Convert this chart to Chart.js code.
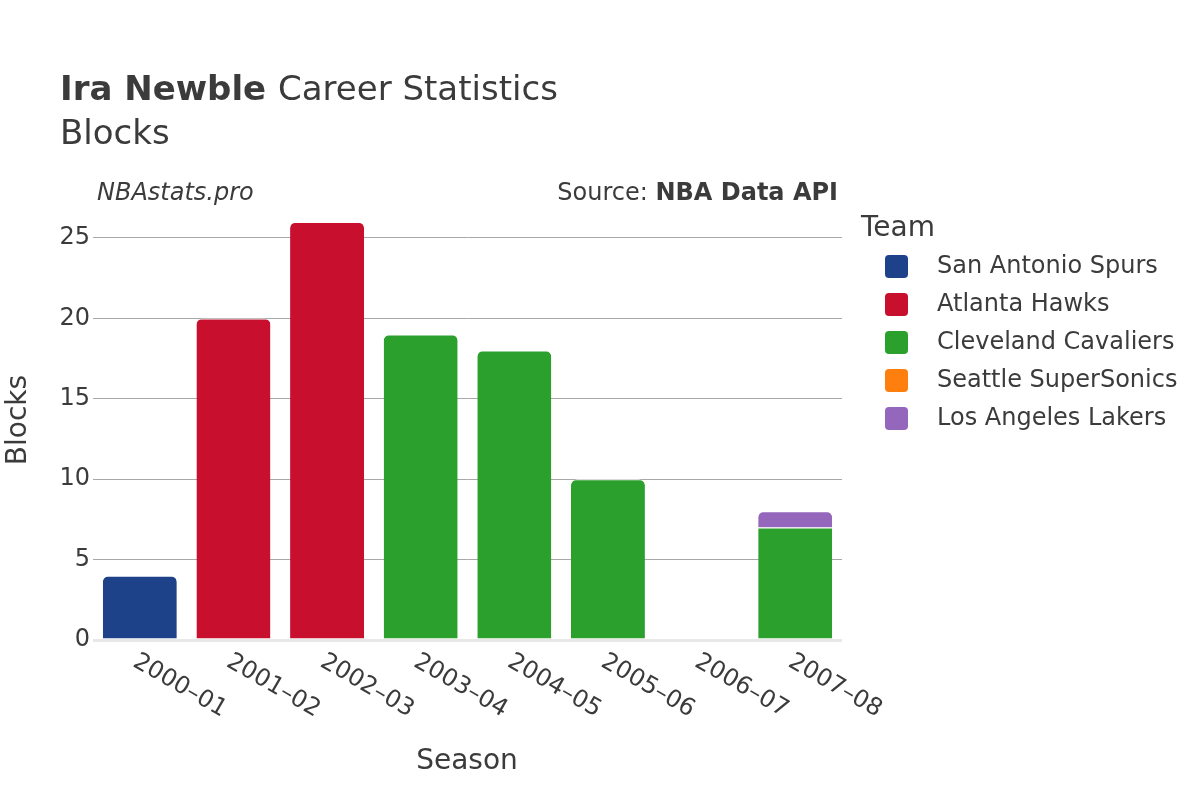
<!DOCTYPE html>
<html>
<head>
<meta charset="utf-8">
<script src="https://cdn.jsdelivr.net/npm/chart.js@4"></script>
<style>
  body { margin: 0; background: #fff; }
  #wrap { width: 1200px; height: 800px; }
</style>
</head>
<body>
<div id="wrap"><canvas id="blocksChart" width="1200" height="800"></canvas></div>
<script>
// seasons on the x axis
const seasons = ['2000–01', '2001–02', '2002–03', '2003–04', '2004–05', '2005–06', '2006–07', '2007–08'];

// blocks per team, one value per season (null = did not play for that team)
const spursBlocks     = [4, null, null, null, null, null, null, null];
const hawksBlocks     = [null, 20, 26, null, null, null, null, null];
const cavaliersBlocks = [null, null, null, 19, 18, 10, null, 7];
const sonicsBlocks    = [null, null, null, null, null, null, 0, null];
const lakersBlocks    = [null, null, null, null, null, null, null, 1];

const teamNames  = ['San Antonio Spurs', 'Atlanta Hawks', 'Cleveland Cavaliers', 'Seattle SuperSonics', 'Los Angeles Lakers'];
const teamColors = ['#1d428a', '#c8102e', '#2ca02c', '#ff7f0e', '#9467bd'];
const yTicks = [0, 5, 10, 15, 20, 25];

const FONT = '"DejaVu Sans", sans-serif';
const TEXT = '#3b3b3b';

const seriesValues = [spursBlocks, hawksBlocks, cavaliersBlocks, sonicsBlocks, lakersBlocks];

const datasets = teamNames.map(function (name, i) {
    return {
        label: name,
        data: seriesValues[i],
        backgroundColor: teamColors[i],
        borderColor: '#ffffff',
        borderWidth: { top: 1, left: 0, right: 0, bottom: 0 },
        borderSkipped: 'start',
        borderRadius: 6,
        barPercentage: 0.79,
        categoryPercentage: 1.0
    };
});

// draws titles, rotated season labels, axis titles and the legend
const decorations = {
    id: 'decorations',
    afterDraw: function (chart) {
        const ctx = chart.ctx;
        const area = chart.chartArea;
        ctx.save();
        ctx.fillStyle = TEXT;
        ctx.textBaseline = 'alphabetic';

        // title
        ctx.textAlign = 'left';
        ctx.font = 'bold 34px ' + FONT;
        ctx.fillText('Ira Newble', 60, 100);
        const w = ctx.measureText('Ira Newble ').width;
        ctx.font = '34px ' + FONT;
        ctx.fillText('Career Statistics', 60 + w, 100);
        ctx.fillText('Blocks', 60, 144);

        // sub labels
        ctx.font = 'italic 24px ' + FONT;
        ctx.fillText('NBAstats.pro', 97, 200);
        ctx.textAlign = 'right';
        ctx.font = 'bold 24px ' + FONT;
        ctx.fillText('NBA Data API', 838, 200);
        const bw = ctx.measureText('NBA Data API').width;
        ctx.font = '24px ' + FONT;
        ctx.fillText('Source: ', 838 - bw, 200);

        // rotated season labels
        const xScale = chart.scales.x;
        ctx.font = '24px ' + FONT;
        ctx.textAlign = 'left';
        ctx.textBaseline = 'middle';
        seasons.forEach(function (s, i) {
            const px = xScale.getPixelForTick(i);
            ctx.save();
            ctx.translate(px - 5, area.bottom + 20);
            ctx.rotate(Math.PI / 6);
            ctx.fillText(s, 0, 0);
            ctx.restore();
        });

        // axis titles
        ctx.textAlign = 'center';
        ctx.font = '28px ' + FONT;
        ctx.fillText('Season', 467, 770 - 8);
        ctx.save();
        ctx.translate(19, 420);
        ctx.rotate(-Math.PI / 2);
        ctx.fillText('Blocks', 0, 0);
        ctx.restore();

        // legend
        ctx.textAlign = 'left';
        ctx.font = '28px ' + FONT;
        ctx.fillText('Team', 861, 229 + 8 - 8);
        ctx.font = '24px ' + FONT;
        ctx.textBaseline = 'middle';
        chart.data.datasets.forEach(function (ds, i) {
            const cy = 266 + i * 38;
            ctx.fillStyle = ds.backgroundColor;
            ctx.beginPath();
            ctx.roundRect(885, cy - 11, 23, 23, 4);
            ctx.fill();
            ctx.fillStyle = TEXT;
            ctx.fillText(ds.label, 937, cy + 1);
        });
        ctx.restore();
    }
};

const ctx = document.getElementById('blocksChart').getContext('2d');
const blocksChart = new Chart(ctx, {
    type: 'bar',
    data: { labels: seasons, datasets: datasets },
    options: {
        responsive: false,
        animation: false,
        layout: { padding: { top: 201, right: 358, left: 0, bottom: 0 } },
        plugins: {
            legend: { display: false },
            tooltip: { enabled: false }
        },
        scales: {
            x: {
                stacked: true,
                grid: { display: false },
                border: { display: false },
                ticks: { display: false },
                afterFit: function (scale) { scale.height = 160; }
            },
            y: {
                stacked: true,
                min: 0,
                max: 27.3,
                afterFit: function (scale) { scale.width = 93; },
                afterBuildTicks: function (scale) {
                    scale.ticks = yTicks.map(function (v) { return { value: v }; });
                },
                border: { display: false },
                grid: {
                    drawTicks: false,
                    color: function (c) { return c.tick && c.tick.value === 0 ? '#e8e8e8' : '#a8a8a8'; },
                    lineWidth: function (c) { return c.tick && c.tick.value === 0 ? 3 : 1; }
                },
                ticks: {
                    padding: 3,
                    color: TEXT,
                    font: { family: FONT, size: 24 }
                }
            }
        }
    },
    plugins: [decorations]
});
</script>
</body>
</html>
